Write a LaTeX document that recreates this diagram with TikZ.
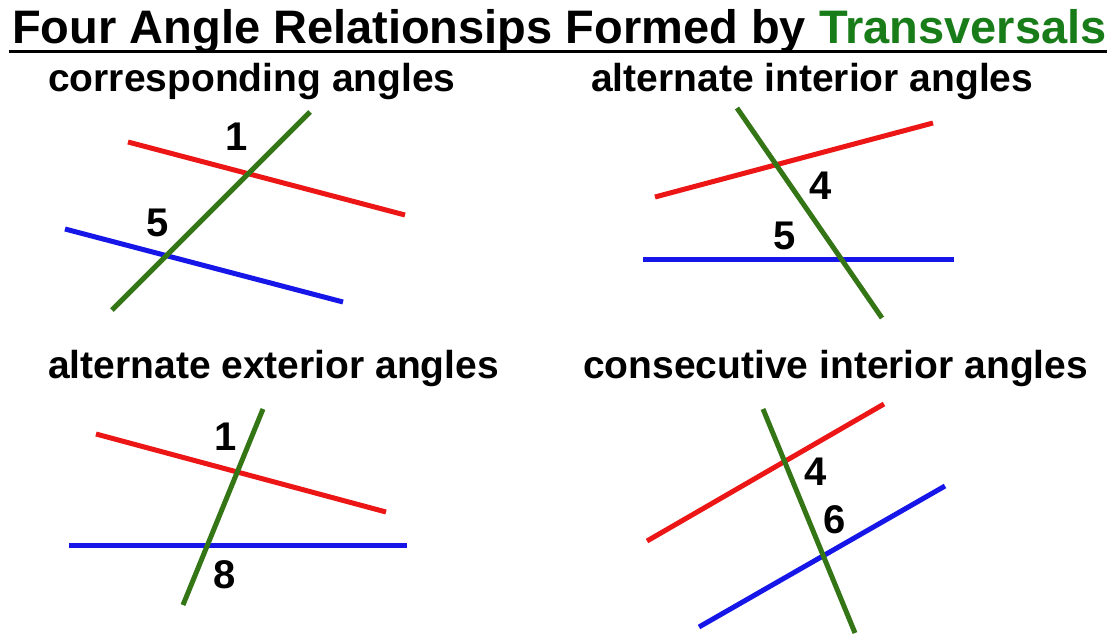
\documentclass[tikz,border=0pt]{standalone}
\usepackage{fontspec}
\setmainfont{Liberation Sans}
\begin{document}
\begin{tikzpicture}[x=1pt, y=-1pt,
  redline/.style={line width=5pt, draw=lred},
  blueline/.style={line width=5pt, draw=lblue},
  transv/.style={line width=5pt, draw=lgreen},
  heading/.style={anchor=base west, inner sep=0pt, font=\fontsize{39}{44}\selectfont\bfseries},
  num/.style={anchor=center, inner sep=0pt, font=\fontsize{40}{44}\selectfont\bfseries}]
\definecolor{lred}{RGB}{236,22,22}
\definecolor{lblue}{RGB}{22,22,232}
\definecolor{lgreen}{RGB}{52,118,22}
\definecolor{tgreen}{RGB}{24,124,24}

\useasboundingbox[fill=white] (0, 0) rectangle (1117, 640);

% title
\node[anchor=base west, inner sep=0pt, font=\fontsize{47}{52}\selectfont\bfseries] (title) at (12, 43)
    {Four Angle Relationsips Formed by \textcolor{tgreen}{Transversals}};
\draw[line width=3pt] (9, 51) -- (1107, 51);

% corresponding angles
\node[heading] (corr) at (48, 91) {corresponding angles};
\draw[redline] (128, 142) -- (405, 215);
\draw[blueline] (65, 229) -- (343, 302);
\draw[transv] (112, 310) -- (310, 112);
\node[num] (corrA) at (237, 137) {1};
\node[num] (corrB) at (158, 223) {5};

% alternate interior angles
\node[heading] (altint) at (591, 91) {alternate interior angles};
\draw[redline] (655, 197) -- (933, 123);
\draw[blueline] (643, 259) -- (954, 259);
\draw[transv] (737, 108) -- (882, 318);
\node[num] (altintA) at (821, 186) {4};
\node[num] (altintB) at (785, 236) {5};

% alternate exterior angles
\node[heading] (altext) at (48, 378) {alternate exterior angles};
\draw[redline] (96, 434) -- (386, 512);
\draw[blueline] (69, 545) -- (407, 545);
\draw[transv] (183, 605) -- (263, 409);
\node[num] (altextA) at (226, 437) {1};
\node[num] (altextB) at (225, 575) {8};

% consecutive interior angles
\node[heading] (consec) at (583, 378) {consecutive interior angles};
\draw[redline] (647, 541) -- (884, 404);
\draw[blueline] (699, 627) -- (945, 486);
\draw[transv] (763, 409) -- (855, 633);
\node[num] (consecA) at (816, 472) {4};
\node[num] (consecB) at (835, 520) {6};

\end{tikzpicture}
\end{document}
